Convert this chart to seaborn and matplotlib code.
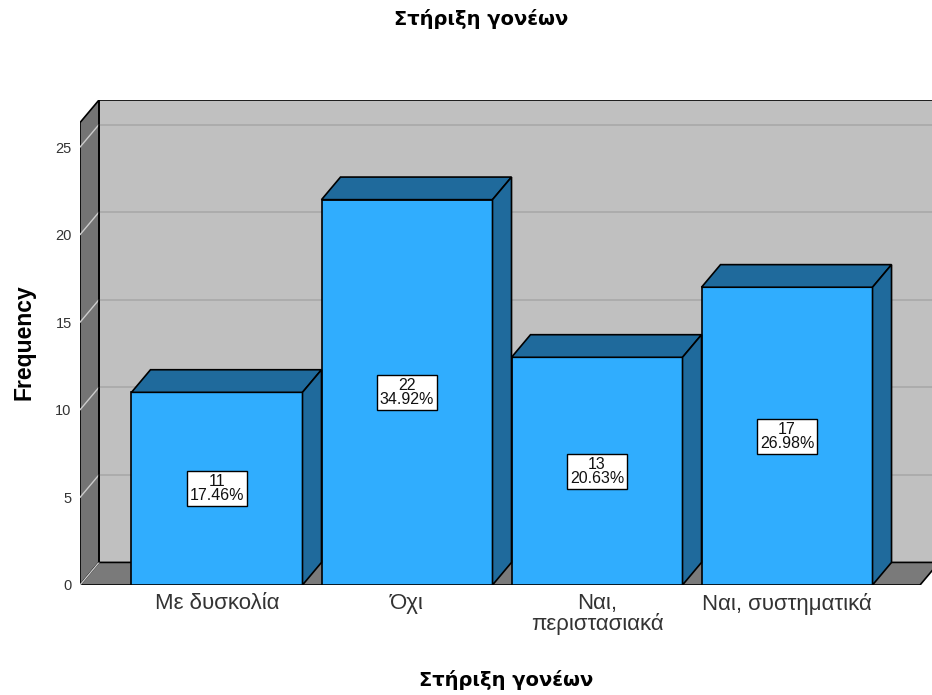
import numpy as np
import pandas as pd
import matplotlib
matplotlib.use('Agg')
import matplotlib.pyplot as plt
from matplotlib.patches import Polygon
import seaborn as sns

# --- data ---
categories = ['Με δυσκολία', 'Όχι', 'Ναι,\nπεριστασιακά', 'Ναι, συστηματικά']
counts = [11, 22, 13, 17]
percents = [17.46, 34.92, 20.63, 26.98]
y_ticks = [0, 5, 10, 15, 20, 25]

# colours in the SPSS 3D look
FRONT = '#30adfe'
SIDE = '#1f6a9c'
BACK_WALL = '#c0c0c0'
LEFT_WALL = '#747474'
FLOOR = '#7a7a7a'

sns.set_style('white')
plt.rcParams['font.family'] = ['Liberation Sans', 'DejaVu Sans']

fig = plt.figure(figsize=(9.32, 6.95), dpi=100)
ax = fig.add_axes([80 / 932, 110 / 695, 852 / 932, 485 / 695])

df = pd.DataFrame({'cat': categories, 'n': counts})

# depth offsets of the fake 3D projection (data units)
dx, dy = 0.10, 1.29
x_left, x_right = -0.721, 3.763
y_top_front = 26.4
y_top = y_top_front + dy
bw = 0.9
floor_right = 3.70

# --- walls and floor ---
ax.add_patch(Polygon([(x_left + dx, dy), (x_right + 1, dy), (x_right + 1, y_top),
                      (x_left + dx, y_top)], closed=True, facecolor=BACK_WALL,
                     edgecolor='none', zorder=0))
for v in y_ticks[1:]:
    ax.plot([x_left + dx, x_right + 1], [v + dy, v + dy], color='#a9a9a9', lw=1.2, zorder=0.5)
ax.plot([x_left + dx, x_right + 1], [y_top, y_top], color='black', lw=1.2, zorder=1.5)
ax.plot([x_left + dx, x_left + dx], [dy, y_top], color='black', lw=1.2, zorder=1.5)

ax.add_patch(Polygon([(x_left, 0), (x_left + dx, dy), (x_left + dx, y_top),
                      (x_left, y_top_front)], closed=True, facecolor=LEFT_WALL,
                     edgecolor='black', lw=1.2, zorder=1))
for v in y_ticks:
    ax.plot([x_left, x_left + dx], [v, v + dy], color='#cccccc', lw=1, zorder=1.2)

ax.add_patch(Polygon([(x_left, 0), (floor_right, 0), (floor_right + dx, dy),
                      (x_left + dx, dy)], closed=True, facecolor=FLOOR,
                     edgecolor='black', lw=1.2, zorder=1))

# --- bars (front faces) ---
sns.barplot(data=df, x='cat', y='n', color=FRONT, saturation=1, width=bw,
            edgecolor='black', linewidth=1.2, ax=ax, zorder=3)

# tops and right sides of each bar
for i, v in enumerate(counts):
    l, r = i - bw / 2, i + bw / 2
    ax.add_patch(Polygon([(l, v), (r, v), (r + dx, v + dy), (l + dx, v + dy)],
                         closed=True, facecolor=SIDE, edgecolor='black', lw=1.2, zorder=3))
    ax.add_patch(Polygon([(r, 0), (r + dx, dy), (r + dx, v + dy), (r, v)],
                         closed=True, facecolor=SIDE, edgecolor='black', lw=1.2, zorder=3))
    ax.text(i, v / 2, f'{v}\n{percents[i]:.2f}%', ha='center', va='center',
            fontsize=11.5, linespacing=0.92, zorder=5, color='#111111',
            bbox=dict(boxstyle='square,pad=0.18', fc='white', ec='black', lw=1))

ax.set_xlim(x_left, x_right)
ax.set_ylim(0, y_top)
ax.set_yticks(y_ticks)
ax.set_yticklabels([str(t) for t in y_ticks], fontsize=10.5, color='#333333')
ax.set_xticks(range(len(categories)))
ax.set_xticklabels(categories, fontsize=16, color='#333333', linespacing=0.92)
ax.tick_params(axis='y', length=0, pad=6)
ax.tick_params(axis='x', length=0, pad=6)
for s in ax.spines.values():
    s.set_visible(False)
ax.patch.set_visible(False)

ax.set_ylabel('Frequency', fontsize=16.5, fontweight='bold', labelpad=14, color='black')
ax.set_xlabel('Στήριξη γονέων', fontsize=14, fontweight='bold', labelpad=25,
              family=['DejaVu Sans'], color='black')
fig.text(0.516, 0.972, 'Στήριξη γονέων', ha='center', va='center', fontsize=14,
         fontweight='bold', family=['DejaVu Sans'], color='black')

fig.savefig('out.png', dpi=100)
